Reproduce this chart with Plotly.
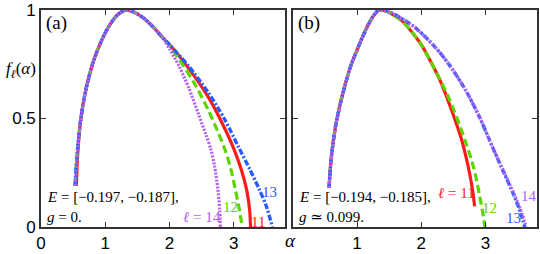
import plotly.graph_objects as go

# ---------------- data ----------------
# Panel (a): E=[-0.197,-0.187], g=0
a11_alpha = [0.55, 0.57, 0.62, 0.70, 0.80, 0.90, 1.00, 1.10, 1.20, 1.32, 1.45, 1.60, 1.75, 1.90, 2.00, 2.30, 2.60, 2.80, 3.00, 3.12, 3.20, 3.245, 3.26]
a11_f     = [0.19, 0.33, 0.50, 0.635, 0.75, 0.83, 0.895, 0.945, 0.98, 1.00, 0.99, 0.962, 0.92, 0.87, 0.84, 0.73, 0.60, 0.49, 0.36, 0.26, 0.17, 0.08, 0.0]

a12_alpha = [0.53, 0.56, 0.62, 0.70, 0.80, 0.90, 1.00, 1.10, 1.20, 1.32, 1.45, 1.60, 1.75, 1.90, 2.00, 2.20, 2.40, 2.60, 2.75, 2.87, 2.96, 3.02, 3.08, 3.13]
a12_f     = [0.19, 0.33, 0.50, 0.635, 0.75, 0.83, 0.895, 0.945, 0.98, 1.00, 0.99, 0.962, 0.92, 0.87, 0.835, 0.75, 0.655, 0.54, 0.44, 0.35, 0.26, 0.177, 0.09, 0.0]

a13_alpha = [0.53, 0.56, 0.62, 0.70, 0.80, 0.90, 1.00, 1.10, 1.20, 1.32, 1.45, 1.60, 1.75, 1.90, 2.00, 2.30, 2.60, 2.85, 3.07, 3.25, 3.39, 3.50, 3.60]
a13_f     = [0.19, 0.33, 0.50, 0.635, 0.75, 0.83, 0.895, 0.945, 0.98, 1.00, 0.99, 0.962, 0.92, 0.87, 0.84, 0.74, 0.62, 0.50, 0.37, 0.265, 0.177, 0.10, 0.0]

a14_alpha = [0.53, 0.56, 0.62, 0.70, 0.80, 0.90, 1.00, 1.10, 1.20, 1.32, 1.45, 1.60, 1.75, 1.90, 2.00, 2.15, 2.30, 2.45, 2.56, 2.64, 2.70, 2.75, 2.78, 2.79]
a14_f     = [0.19, 0.33, 0.50, 0.635, 0.75, 0.83, 0.895, 0.945, 0.98, 1.00, 0.99, 0.962, 0.92, 0.87, 0.82, 0.74, 0.64, 0.52, 0.43, 0.36, 0.28, 0.177, 0.08, 0.0]

# Panel (b): E=[-0.194,-0.185], g~0.099
b11_alpha = [0.565, 0.60, 0.67, 0.75, 0.82, 0.90, 1.00, 1.10, 1.18, 1.26, 1.34, 1.45, 1.55, 1.70, 1.85, 2.00, 2.15, 2.30, 2.42, 2.53, 2.62, 2.69, 2.75, 2.80, 2.83]
b11_f     = [0.18, 0.32, 0.47, 0.58, 0.66, 0.74, 0.815, 0.885, 0.935, 0.975, 1.00, 0.995, 0.98, 0.95, 0.90, 0.84, 0.76, 0.67, 0.58, 0.49, 0.41, 0.33, 0.25, 0.165, 0.095]

b12_alpha = [0.565, 0.60, 0.67, 0.75, 0.82, 0.90, 1.00, 1.10, 1.18, 1.26, 1.34, 1.45, 1.55, 1.70, 1.85, 2.00, 2.15, 2.30, 2.45, 2.57, 2.68, 2.78, 2.85, 2.91, 2.96, 2.99]
b12_f     = [0.18, 0.32, 0.47, 0.58, 0.66, 0.74, 0.815, 0.885, 0.935, 0.975, 1.00, 0.995, 0.98, 0.95, 0.90, 0.84, 0.76, 0.675, 0.58, 0.49, 0.40, 0.31, 0.23, 0.14, 0.06, 0.0]

b13_alpha = [0.565, 0.60, 0.67, 0.75, 0.82, 0.90, 1.00, 1.10, 1.18, 1.26, 1.34, 1.45, 1.55, 1.70, 1.90, 2.10, 2.30, 2.50, 2.70, 2.90, 3.12, 3.30, 3.45, 3.55, 3.61]
b13_f     = [0.18, 0.32, 0.47, 0.58, 0.66, 0.74, 0.815, 0.885, 0.935, 0.975, 1.00, 0.997, 0.985, 0.96, 0.92, 0.865, 0.80, 0.72, 0.625, 0.51, 0.36, 0.24, 0.14, 0.06, 0.0]

b14_alpha = [0.565, 0.60, 0.67, 0.75, 0.82, 0.90, 1.00, 1.10, 1.18, 1.26, 1.34, 1.45, 1.55, 1.70, 1.90, 2.10, 2.30, 2.50, 2.70, 2.90, 3.12, 3.31, 3.46, 3.57, 3.63]
b14_f     = [0.18, 0.32, 0.47, 0.58, 0.66, 0.74, 0.815, 0.885, 0.935, 0.975, 1.00, 0.997, 0.985, 0.96, 0.92, 0.865, 0.80, 0.72, 0.625, 0.51, 0.36, 0.24, 0.14, 0.06, 0.0]

x_ticks = [0, 1, 2, 3]
x_tick_labels = ["0", "1", "2", "3"]
x2_ticks = [1, 2, 3]
x2_tick_labels = ["1", "2", "3"]
y_ticks = [0, 0.5, 1]
y_tick_labels = ["0", "0.5", "1"]

# ---------------- styling ----------------
RED = "#ff1a1a"
GREEN = "#5cd600"
BLUE = "#2a5cff"
PURPLE = "#b061f0"
SERIF = "Liberation Serif, Times New Roman, DejaVu Serif, serif"
SANS = "Liberation Sans, Arial, Helvetica, sans-serif"

styles = {
    11: dict(color=RED, width=3.2, dash="solid"),
    12: dict(color=GREEN, width=3.2, dash="8px,4px"),
    13: dict(color=BLUE, width=3.4, dash="6px,2px,2px,2px"),
    14: dict(color=PURPLE, width=3.2, dash="2px,1.5px"),
}

fig = go.Figure()
panels = [
    ("x", "y", {11: (a11_alpha, a11_f), 12: (a12_alpha, a12_f), 13: (a13_alpha, a13_f), 14: (a14_alpha, a14_f)}),
    ("x2", "y2", {11: (b11_alpha, b11_f), 12: (b12_alpha, b12_f), 13: (b13_alpha, b13_f), 14: (b14_alpha, b14_f)}),
]
for xa, ya, series in panels:
    for ell in (11, 12, 13, 14):
        xs, ys = series[ell]
        fig.add_trace(go.Scatter(
            x=xs, y=ys, mode="lines", xaxis=xa, yaxis=ya,
            line=dict(shape="spline", smoothing=0.8, **styles[ell]),
            showlegend=False, hoverinfo="skip"))

axis_common = dict(
    range=[0, 3.8], tickmode="array",
    ticks="inside", ticklen=5, tickwidth=1.2, tickcolor="#333",
    showline=True, linecolor="#333", linewidth=1.6, mirror="ticks",
    showgrid=False, zeroline=False, ticklabeloverflow="allow",
    tickfont=dict(family=SANS, size=17, color="black"),
)
yaxis_common = dict(
    range=[0, 1.0], tickmode="array", tickvals=y_ticks,
    ticks="inside", ticklen=5, tickwidth=1.2, tickcolor="#333",
    showline=True, linecolor="#333", linewidth=1.6, mirror="ticks",
    showgrid=False, zeroline=False, ticklabeloverflow="allow",
    tickfont=dict(family=SANS, size=17, color="black"),
)

fig.update_layout(
    width=540, height=254,
    margin=dict(l=41, r=1, t=9, b=25),
    paper_bgcolor="white", plot_bgcolor="white",
    xaxis=dict(domain=[0, 0.4925], anchor="y", tickvals=x_ticks, ticktext=x_tick_labels, **axis_common),
    xaxis2=dict(domain=[0.5075, 1], anchor="y2", tickvals=x2_ticks, ticktext=x2_tick_labels, **axis_common),
    yaxis=dict(domain=[0, 1], anchor="x", ticktext=y_tick_labels, **yaxis_common),
    yaxis2=dict(domain=[0, 1], anchor="x2", showticklabels=False, **yaxis_common),
)

ann = []
def txt(x, y, s, color="black", size=15, xref="x", yref="y", xanchor="left", yanchor="middle"):
    ann.append(dict(x=x, y=y, text=s, xref=xref, yref=yref, showarrow=False,
                    xanchor=xanchor, yanchor=yanchor,
                    font=dict(family=SERIF, size=size, color=color)))

# panel (a)
txt(0.05, 0.94, "(a)", size=19)
txt(0.067, 0.136, "<i>E</i> = [−0.197, −0.187],", size=15)
txt(0.067, 0.045, "<i>g</i> = 0.", size=15)
txt(2.51, 0.045, "<i>ℓ</i> = 14", color=PURPLE, xanchor="center")
txt(2.95, 0.09, "12", color=GREEN, xanchor="center")
txt(3.38, 0.025, "11", color=RED, xanchor="center")
txt(3.55, 0.16, "13", color=BLUE, xanchor="center")
# panel (b)
txt(0.055, 0.94, "(b)", size=19, xref="x2", yref="y2")
txt(0.07, 0.136, "<i>E</i> = [−0.194, −0.185],", size=15, xref="x2", yref="y2")
txt(0.07, 0.045, "<i>g</i> ≃ 0.099.", size=15, xref="x2", yref="y2")
txt(2.55, 0.155, "<i>ℓ</i> = 11", color=RED, xanchor="center", xref="x2", yref="y2")
txt(3.065, 0.086, "12", color=GREEN, xanchor="center", xref="x2", yref="y2")
txt(3.67, 0.145, "14", color=PURPLE, xanchor="center", xref="x2", yref="y2")
txt(3.43, 0.04, "13", color=BLUE, xanchor="center", xref="x2", yref="y2")
# axis titles
txt(-0.006, 0.723, "<i>f</i><sub><i>ℓ</i></sub>(<i>α</i>)", size=17, xref="paper", yref="paper", xanchor="right")
txt(0.504, -0.064, "<i>α</i>", size=19, xref="paper", yref="paper", xanchor="center")

fig.update_layout(annotations=ann)
fig.write_html("out.html", config={"displayModeBar": False},
               post_script="document.body.style.margin='0';document.body.style.padding='0';")
